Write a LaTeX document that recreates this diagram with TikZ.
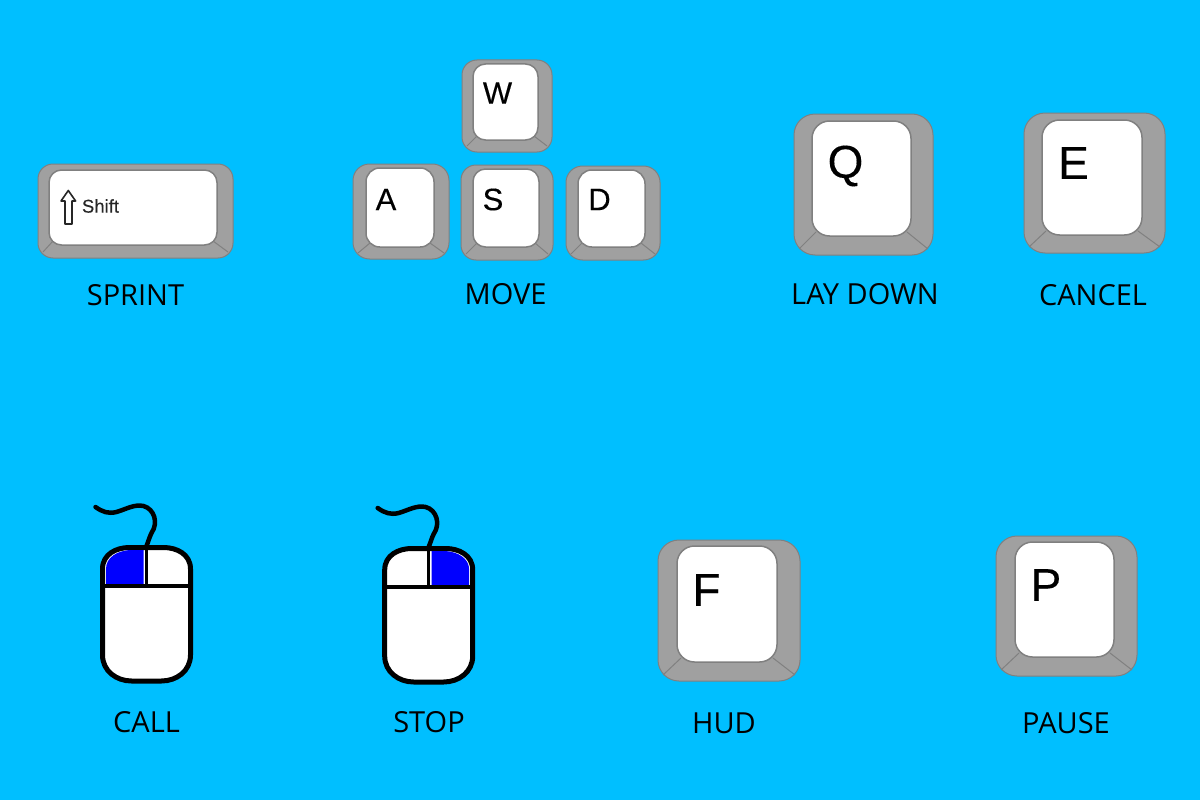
\documentclass[tikz,border=0pt]{standalone}
\usepackage{fontspec}
\setmainfont{Open Sans}
\newfontfamily\keyfont[FakeBold=0.25]{Liberation Sans}
\definecolor{bgblue}{RGB}{0,191,255}
\definecolor{capgray}{RGB}{160,160,160}
\definecolor{capline}{RGB}{128,128,128}
\definecolor{mouseblue}{RGB}{0,0,255}
\tikzset{
  capouter/.style={fill=capgray,draw=capline,line width=1pt},
  capinner/.style={fill=white,draw=capline,line width=1.5pt},
  capedge/.style={draw=capline,line width=1pt},
  caption/.style={font=\fontsize{29}{34}\selectfont,text=black,inner sep=0pt,anchor=center},
  capletter/.style={font=\keyfont,text=black,inner sep=0pt,anchor=center},
  mouseline/.style={draw=black,line width=5pt},
}
% x0 y0 x1 y1 ix0 iy0 ix1 iy1 radius
\newcommand{\keycap}[9]{%
  \pgfmathsetlengthmacro{\routerr}{#9*1.5}%
  \pgfmathsetlengthmacro{\rinnerr}{#9*1.25}%
  \draw[capouter,rounded corners=\routerr] (#1,#2) rectangle (#3,#4);
  \draw[capedge] (#1+5,#4-6) -- (#5+4,#8-4);
  \draw[capedge] (#3-5,#4-6) -- (#7-4,#8-4);
  \draw[capinner,rounded corners=\rinnerr] (#5,#6) rectangle (#7,#8);
}
% x y blueleft(1/0)
\newcommand{\mousepic}[3]{%
  \begin{scope}[shift={(#1,#2)}]
    \draw[line width=4.5pt,line cap=round,draw=black] (-51,-38) .. controls (-44,-33) and (-38,-31) .. (-30,-33)
       .. controls (-20,-36) and (-12,-41) .. (-3,-39) .. controls (8,-36) and (12,-22) .. (5,-12)
       .. controls (3,-8) and (2,-4) .. (0,1);
    \draw[mouseline,fill=white] (-44,24) .. controls (-44,9) and (-30,2.5) .. (-17,2.5) -- (17,2.5)
       .. controls (30,2.5) and (44,9) .. (44,24) -- (44,110)
       .. controls (44,126) and (30,136) .. (15,136) -- (-15,136)
       .. controls (-30,136) and (-44,126) .. (-44,110) -- cycle;
    \ifnum#3=1
      \fill[mouseblue] (-40.5,39) -- (-40.5,24) .. controls (-40.5,12) and (-29,6) .. (-17,5) -- (-3,5) -- (-3,39) -- cycle;
    \else
      \fill[mouseblue] (40.5,39) -- (40.5,24) .. controls (40.5,12) and (29,6) .. (17,5) -- (3,5) -- (3,39) -- cycle;
    \fi
    \draw[draw=black,line width=3.5pt] (0,2) -- (0,41);
    \draw[draw=black,line width=3.5pt] (-42,41) -- (42,41);
  \end{scope}
}
\begin{document}
\begin{tikzpicture}[x=1pt,y=-1pt]
\useasboundingbox (0,0) rectangle (1200,800);
\fill[bgblue] (0,0) rectangle (1200,800);

\keycap{38}{164}{233}{258}{49}{170}{217}{245}{10}
\keycap{462}{60}{552}{152}{473}{64}{538}{140}{10}
\keycap{353}{164}{449}{259}{366}{168}{434}{247}{11}
\keycap{461}{165}{553}{260}{473}{169}{539}{247}{10}
\keycap{566}{166}{660}{260}{578}{170}{645}{247}{11}
\keycap{794}{114}{933}{255}{812}{121}{911}{236}{14}
\keycap{1024}{113}{1165}{253}{1042}{120}{1142}{235}{14}
\keycap{658}{540}{800}{681}{677}{546}{777}{662}{14}
\keycap{996}{536}{1137}{676}{1015}{542}{1114}{657}{14}

\draw[draw=black!85,line width=1.6pt,fill=white,line join=round]
  (65,224) -- (65,201) -- (61,201) -- (68.3,190.5) -- (75.6,201) -- (72,201) -- (72,224) -- cycle;
\node[capletter,font=\keyfont\fontsize{18.5}{22}\selectfont,text=black!85] (tshift) at (100.5,206) {Shift};

\node[capletter,font=\keyfont\fontsize{31}{36}\selectfont] (tw) at (497.5,93) {W};
\node[capletter,font=\keyfont\fontsize{31}{36}\selectfont] (ta) at (386,199.5) {A};
\node[capletter,font=\keyfont\fontsize{31}{36}\selectfont] (ts) at (493,199.5) {S};
\node[capletter,font=\keyfont\fontsize{31}{36}\selectfont] (td) at (599.5,199.5) {D};
\node[capletter,font=\keyfont\fontsize{46}{52}\selectfont] (tq) at (845.5,166) {Q};
\node[capletter,font=\keyfont\fontsize{46}{52}\selectfont] (te) at (1073.5,163) {E};
\node[capletter,font=\keyfont\fontsize{46}{52}\selectfont] (tf) at (706.5,590) {F};
\node[capletter,font=\keyfont\fontsize{46}{52}\selectfont] (tp) at (1046,585) {P};

\mousepic{146.5}{545}{1}
\mousepic{428.7}{546}{0}

\node[caption] (l1) at (135.5,295) {SPRINT};
\node[caption] (l2) at (505.5,294) {MOVE};
\node[caption] (l3) at (865,294) {LAY DOWN};
\node[caption] (l4) at (1093,295) {CANCEL};
\node[caption] (l5) at (146.5,722) {CALL};
\node[caption] (l6) at (429,722) {STOP};
\node[caption] (l7) at (724,723) {HUD};
\node[caption] (l8) at (1066,723) {PAUSE};
\end{tikzpicture}
\end{document}
